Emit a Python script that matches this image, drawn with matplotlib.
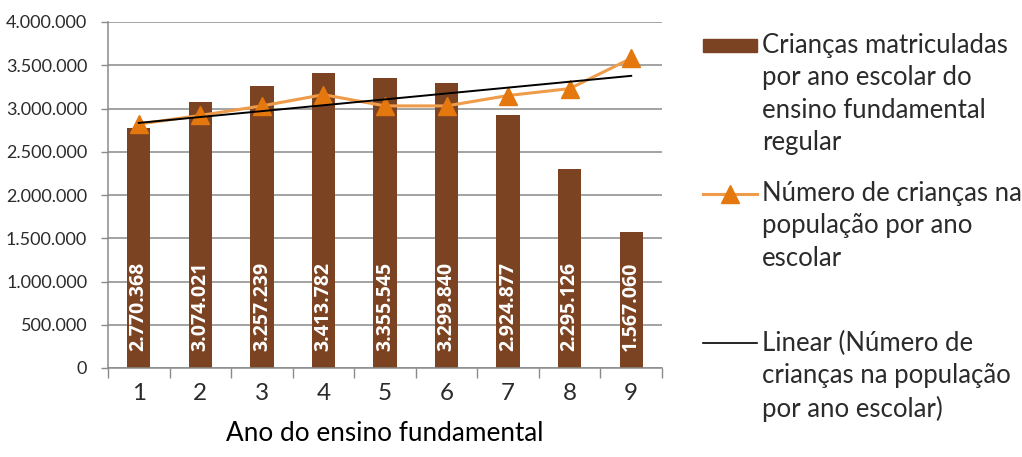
import numpy as np
import matplotlib.pyplot as plt
from matplotlib.patches import Rectangle
from matplotlib.lines import Line2D

plt.rcParams['font.family'] = ['Lato', 'DejaVu Sans']

anos = [1, 2, 3, 4, 5, 6, 7, 8, 9]
matriculadas = [2770368, 3074021, 3257239, 3413782, 3355545, 3299840, 2924877, 2295126, 1567060]
populacao = [2820000, 2920000, 3030000, 3160000, 3030000, 3030000, 3150000, 3230000, 3580000]
yticks = [0, 500000, 1000000, 1500000, 2000000, 2500000, 3000000, 3500000, 4000000]

BROWN = '#7B4321'
ORANGE_LINE = '#EE9B4A'
ORANGE_MARK = '#E4780F'
GRID = '#8A8A8A'
TXT = '#2B2B2B'


def fmt(v):
    return f'{v:,}'.replace(',', '.')


fig = plt.figure(figsize=(10.22, 4.57), dpi=100)
W, H = 1022, 457
ax = fig.add_axes([108 / W, (H - 368) / H, (662 - 108) / W, (368 - 22) / H])

x = np.array(anos)
ax.bar(x, matriculadas, width=0.38, color=BROWN, zorder=2)
for xi, v in zip(x, matriculadas):
    ax.text(xi, 200000, fmt(v), rotation=90, ha='center', va='bottom',
            color='white', fontsize=14, fontweight='bold', family='Open Sans', zorder=5)

ax.plot(x, populacao, color=ORANGE_LINE, lw=2.2, zorder=3)
ax.plot(x, populacao, ls='none', marker='^', ms=13, color=ORANGE_MARK,
        mec=ORANGE_MARK, zorder=4)

# linear trend of the population series
k, b = np.polyfit(x, populacao, 1)
ax.plot(x[[0, -1]], k * x[[0, -1]] + b, color='black', lw=1.4, zorder=4)

ax.set_xlim(0.5, 9.5)
ax.set_ylim(0, 4000000)
ax.set_yticks(yticks)
ax.set_yticklabels([fmt(v) for v in yticks], fontsize=13, color=TXT)
ax.set_xticks(anos)
ax.set_xticklabels([str(a) for a in anos], fontsize=17.5, color=TXT)
ax.set_xticks(np.arange(0.5, 10, 1), minor=True)
ax.tick_params(axis='x', which='major', length=0, pad=11)
ax.tick_params(axis='x', which='minor', length=7, color=GRID, width=1)
ax.tick_params(axis='y', length=5, color=GRID, width=1, pad=10)
ax.grid(axis='y', color=GRID, lw=1.1, zorder=0)
ax.set_axisbelow(True)
for s in ['top', 'right']:
    ax.spines[s].set_visible(False)
for s in ['left', 'bottom']:
    ax.spines[s].set_color(GRID)
    ax.spines[s].set_linewidth(1.1)
ax.set_xlabel('Ano do ensino fundamental', fontsize=18.8, color='black', labelpad=12)


# legend drawn in pixel coordinates on the figure
def px(xp, yp):
    return xp / W, (H - yp) / H


tx = 762
fs = 18.5
ls = 1.37
fig.patches.append(Rectangle(px(703, 52), 54 / W, 13 / H, transform=fig.transFigure,
                             color=BROWN))
fig.text(*px(tx, 33), 'Crianças matriculadas\npor ano escolar do\nensino fundamental\nregular',
         fontsize=fs, color=TXT, va='top', ha='left', linespacing=ls)

fig.lines.append(Line2D([703 / W, 757 / W], [(H - 194) / H] * 2, transform=fig.transFigure,
                        color=ORANGE_LINE, lw=2.2))
fig.lines.append(Line2D([730 / W], [(H - 194) / H], transform=fig.transFigure,
                        marker='^', ms=13, color=ORANGE_MARK, ls='none'))
fig.text(*px(tx, 181), 'Número de crianças na\npopulação por ano\nescolar',
         fontsize=fs, color=TXT, va='top', ha='left', linespacing=ls)

fig.lines.append(Line2D([703 / W, 757 / W], [(H - 343) / H] * 2, transform=fig.transFigure,
                        color='black', lw=1.2))
fig.text(*px(tx, 331), 'Linear (Número de\ncrianças na população\npor ano escolar)',
         fontsize=fs, color=TXT, va='top', ha='left', linespacing=ls)

fig.savefig('out.png', dpi=100, facecolor='white')
